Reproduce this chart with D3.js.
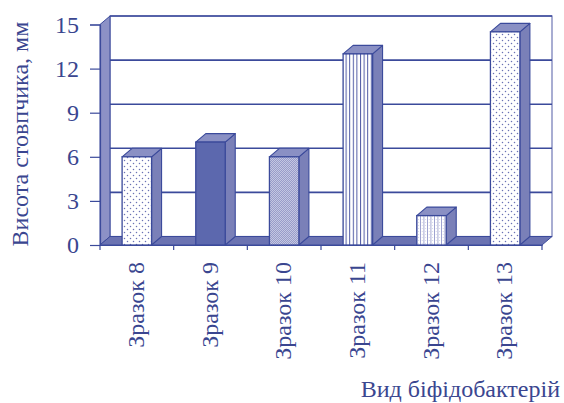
<!DOCTYPE html>
<html>
<head>
<meta charset="utf-8">
<script src="https://cdn.jsdelivr.net/npm/d3@7"></script>
<style>
  html, body { margin: 0; padding: 0; background: #fff; }
</style>
</head>
<body>
<svg id="chart" width="564" height="403"></svg>
<script>
// Column heights of the samples, mm
const categories = ["Зразок 8", "Зразок 9", "Зразок 10", "Зразок 11", "Зразок 12", "Зразок 13"];
const values = [6, 7, 6, 13, 2, 14.5];
const fills = ["dots", "solid", "diag", "vstripes", "grid", "dots"];
const yTicks = [0, 3, 6, 9, 12, 15];
const yTitle = "Висота стовпчика, мм";
const xTitle = "Вид біфідобактерій";

const serif = "'Liberation Serif', 'Times New Roman', serif";
const textInk = "#3a4690";
const fontSize = "24px";

const svg = d3.select("#chart");
const ink = "#3b4a9b";
const sideFill = "#7a80b8";
const topFill = "#8a90c4";
const wallFill = "#8c91c6";
const floorFill = "#6b73b2";

// 3D depth offset
const dx = 10, dy = -8.5;

const x = d3.scaleBand().domain(categories).range([100, 542]);
const y = d3.scaleLinear().domain([0, 15]).range([245, 24.5]);

// Fill patterns for the column faces
const defs = svg.append("defs");
const pDots = defs.append("pattern").attr("id", "dots").attr("patternUnits", "userSpaceOnUse")
  .attr("width", 6).attr("height", 6);
pDots.append("rect").attr("width", 6).attr("height", 6).attr("fill", "#fff");
pDots.append("circle").attr("cx", 1.5).attr("cy", 1.5).attr("r", 0.75).attr("fill", "#6a72b4");
pDots.append("circle").attr("cx", 4.5).attr("cy", 4.5).attr("r", 0.75).attr("fill", "#6a72b4");

const pDiag = defs.append("pattern").attr("id", "diag").attr("patternUnits", "userSpaceOnUse")
  .attr("width", 2).attr("height", 2);
pDiag.append("rect").attr("width", 2).attr("height", 2).attr("fill", "#c4c7e2");
pDiag.append("path").attr("d", "M0,2 L2,0 M-1,1 L1,-1 M1,3 L3,1").attr("stroke", "#7a80b8").attr("stroke-width", 0.6);

const pV = defs.append("pattern").attr("id", "vstripes").attr("patternUnits", "userSpaceOnUse")
  .attr("width", 3.6).attr("height", 4);
pV.append("rect").attr("width", 3.6).attr("height", 4).attr("fill", "#fff");
pV.append("rect").attr("x", 0).attr("width", 1).attr("height", 4).attr("fill", "#4f5aa4");

const pG = defs.append("pattern").attr("id", "grid").attr("patternUnits", "userSpaceOnUse")
  .attr("width", 3.5).attr("height", 3);
pG.append("rect").attr("width", 3.5).attr("height", 3).attr("fill", "#fff");
pG.append("rect").attr("x", 0).attr("width", 0.8).attr("height", 3).attr("fill", "#8d93c8");
pG.append("rect").attr("x", 1.8).attr("y", 0).attr("width", 0.8).attr("height", 0.7).attr("fill", "#b5b9dc");

const fillFor = f => f === "solid" ? "#5c68ae" : `url(#${f})`;

// Back wall
const [x0, x1] = x.range();
svg.append("rect")
  .attr("x", x0 + dx).attr("y", y(15) + dy)
  .attr("width", x1 - x0).attr("height", y(0) - y(15))
  .attr("fill", "#fff").attr("stroke", "#6f77b4").attr("stroke-width", 1.2);

// Gridlines on back wall
svg.append("g").selectAll("line").data(yTicks.filter(t => t > 0 && t < 15)).join("line")
  .attr("x1", x0 + dx).attr("x2", x1 + dx)
  .attr("y1", d => y(d) + dy).attr("y2", d => y(d) + dy)
  .attr("stroke", ink).attr("stroke-width", 1.6);
svg.append("line")
  .attr("x1", x0 + dx).attr("x2", x1 + dx)
  .attr("y1", y(15) + dy).attr("y2", y(15) + dy)
  .attr("stroke", ink).attr("stroke-width", 1.4);

// Side wall
svg.append("path")
  .attr("d", `M${x0},${y(0)} L${x0},${y(15)} L${x0 + dx},${y(15) + dy} L${x0 + dx},${y(0) + dy} Z`)
  .attr("fill", wallFill).attr("stroke", ink).attr("stroke-width", 1);

// Floor
svg.append("path")
  .attr("d", `M${x0},${y(0)} L${x1},${y(0)} L${x1 + dx},${y(0) + dy} L${x0 + dx},${y(0) + dy} Z`)
  .attr("fill", floorFill).attr("stroke", ink).attr("stroke-width", 1);

// Columns
const bw = x.bandwidth() * 0.4;
const bars = svg.append("g").selectAll("g").data(categories).join("g");
bars.each(function(c, i) {
  const g = d3.select(this);
  const left = x(c) + (x.bandwidth() - bw) / 2;
  const right = left + bw;
  const top = y(values[i]);
  const base = y(0);
  // side face
  g.append("path")
    .attr("d", `M${right},${base} L${right},${top} L${right + dx},${top + dy} L${right + dx},${base + dy} Z`)
    .attr("fill", sideFill).attr("stroke", ink).attr("stroke-width", 1.1).attr("stroke-linejoin", "round");
  // top face
  g.append("path")
    .attr("d", `M${left},${top} L${right},${top} L${right + dx},${top + dy} L${left + dx},${top + dy} Z`)
    .attr("fill", topFill).attr("stroke", ink).attr("stroke-width", 1.1).attr("stroke-linejoin", "round");
  // front face
  g.append("rect")
    .attr("x", left).attr("y", top).attr("width", bw).attr("height", base - top)
    .attr("fill", fillFor(fills[i])).attr("stroke", ink).attr("stroke-width", 1.3);
});

// Value axis
const yAxis = svg.append("g").attr("transform", `translate(${x0},0)`)
  .call(d3.axisLeft(y).tickValues(yTicks).tickSize(10).tickPadding(11).tickFormat(d3.format("d")));
yAxis.select(".domain").attr("stroke", ink).attr("stroke-width", 1.2);
yAxis.selectAll(".tick line").attr("stroke", ink).attr("stroke-width", 1.2);
yAxis.selectAll(".tick text")
  .style("font-family", serif).style("font-size", fontSize).style("fill", textInk);

// Category axis
const xAxis = svg.append("g").attr("transform", `translate(0,${y(0)})`)
  .call(d3.axisBottom(x).tickSize(0).tickFormat(""));
xAxis.select(".domain").attr("stroke", ink).attr("stroke-width", 1.2);
// boundary ticks between categories
svg.append("g").selectAll("line").data(d3.range(categories.length + 1)).join("line")
  .attr("x1", i => x0 + i * x.step()).attr("x2", i => x0 + i * x.step())
  .attr("y1", y(0)).attr("y2", y(0) + 5)
  .attr("stroke", ink).attr("stroke-width", 1.2);

// Rotated category labels
svg.append("g").selectAll("text").data(categories).join("text")
  .attr("transform", c => `translate(${x(c) + x.bandwidth() / 2 + 7},262) rotate(-90)`)
  .attr("text-anchor", "end")
  .style("font-family", serif).style("font-size", fontSize).style("fill", textInk)
  .text(c => c);

// Axis titles
svg.append("text")
  .attr("transform", `translate(28,134) rotate(-90)`)
  .attr("text-anchor", "middle")
  .style("font-family", serif).style("font-size", fontSize).style("fill", textInk)
  .text(yTitle);

svg.append("text")
  .attr("x", 560).attr("y", 397)
  .attr("text-anchor", "end")
  .style("font-family", serif).style("font-size", fontSize).style("fill", textInk)
  .text(xTitle);
</script>
</body>
</html>
